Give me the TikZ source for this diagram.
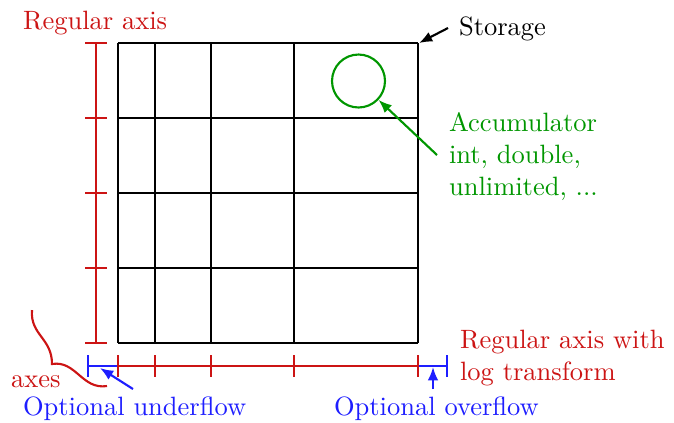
\documentclass[tikz,border=0pt]{standalone}
\usetikzlibrary{arrows.meta}
\definecolor{axred}{RGB}{204,20,20}
\definecolor{accgreen}{RGB}{0,150,0}
\definecolor{flowblue}{RGB}{30,30,255}
\begin{document}
\begin{tikzpicture}[x=0.3774pt,y=-0.3774pt, thick,
  lbl/.style={inner sep=0pt, anchor=base west, align=left},
  arr/.style={-{Latex[length=5pt,width=4pt]}}]
\useasboundingbox (0,0) rectangle (674,422);
% storage grid
\foreach \y in {43,118,193,268,343} \draw (118,\y) -- (418,\y);
\foreach \x in {118,155,211,294,418} \draw (\x,43) -- (\x,343);
\coordinate (gridNE) at (419,43);
% overflow / underflow
\draw[flowblue] (88,366) -- (118,366);
\draw[flowblue] (88,355) -- (88,377);
\draw[flowblue] (418,366) -- (447,366);
\draw[flowblue] (447,355) -- (447,377);
% regular axis (vertical)
\draw[axred] (96,43) -- (96,343);
\foreach \y in {43,118,193,268,343} \draw[axred] (85,\y) -- (107,\y);
% log axis (horizontal)
\draw[axred] (118,366) -- (418,366);
\foreach \x in {118,155,211,294,418} \draw[axred] (\x,355) -- (\x,377);
% accumulator
\node[circle, draw=accgreen, minimum size=20pt, inner sep=0pt] (acc) at (358.5,81) {};
% labels
\node[lbl, text=axred] (regaxis) at (22,29) {Regular axis};
\node[lbl] (storage) at (458,35) {Storage};
\node[lbl, text=accgreen] (accl) at (448,195) {Accumulator\\int, double,\\unlimited, ...};
\node[lbl, text=axred] (logaxis) at (459,380) {Regular axis with\\log transform};
\node[lbl, text=axred] (axes) at (10,387) {axes};
\node[lbl, text=flowblue] (under) at (22,415) {Optional underflow};
\node[lbl, text=flowblue] (over) at (333,415) {Optional overflow};
% connectors
\coordinate (stTail) at (448,28);
\draw[arr] (stTail) -- (gridNE);
\coordinate (accTail) at (437,155);
\draw[arr, accgreen] (accTail) -- (acc);
\coordinate (ufTail) at (133,389);
\coordinate (ufTip) at (100,368);
\draw[arr, flowblue] (ufTail) -- (ufTip);
\coordinate (ofTail) at (433,389);
\coordinate (ofTip) at (433,367);
\draw[arr, flowblue] (ofTail) -- (ofTip);
% axes curve
\draw[axred] (32,310) .. controls (30,335) and (52,338) .. (52,364)
  .. controls (76,360) and (82,390) .. (107,386);
\end{tikzpicture}
\end{document}
